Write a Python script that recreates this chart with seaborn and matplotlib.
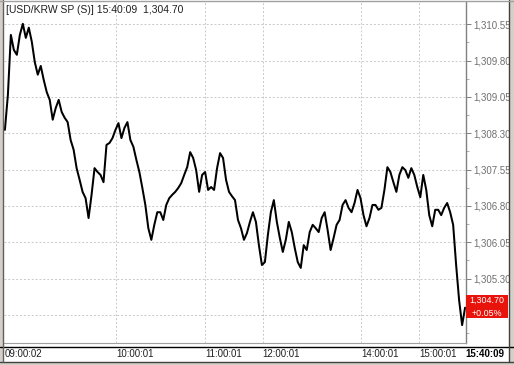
import matplotlib
matplotlib.use("Agg")
import matplotlib.pyplot as plt
import seaborn as sns
import numpy as np
import pandas as pd
from matplotlib.patches import Rectangle
from matplotlib.lines import Line2D
from matplotlib.ticker import FixedLocator

# ---- data ----
title = "[USD/KRW SP (S)] 15:40:09  1,304.70"
last_price_label = "1,304.70"
change_label = "+0.05%"

prices = [
    1308.37, 1309.09, 1310.33, 1310.02, 1309.92, 1310.33, 1310.56, 1310.27, 1310.48, 1310.19,
    1309.77, 1309.51, 1309.69, 1309.40, 1309.15, 1308.99, 1308.58, 1308.82, 1308.99, 1308.74,
    1308.62, 1308.53, 1308.16, 1307.96, 1307.58, 1307.34, 1307.09, 1306.96, 1306.55, 1307.03,
    1307.58, 1307.50, 1307.44, 1307.29, 1308.06, 1308.10, 1308.20, 1308.37, 1308.51, 1308.20,
    1308.41, 1308.53, 1308.16, 1308.02, 1307.75, 1307.50, 1307.17, 1306.82, 1306.34, 1306.10,
    1306.41, 1306.67, 1306.67, 1306.51, 1306.82, 1306.96, 1307.03, 1307.09, 1307.17, 1307.27,
    1307.44, 1307.60, 1307.91, 1307.79, 1307.54, 1307.09, 1307.44, 1307.50, 1307.13, 1307.19,
    1307.13, 1307.58, 1307.89, 1307.79, 1307.34, 1307.09, 1307.00, 1306.92, 1306.51, 1306.34,
    1306.10, 1306.24, 1306.47, 1306.67, 1306.47, 1305.99, 1305.58, 1305.64, 1306.20, 1306.67,
    1306.92, 1306.47, 1306.14, 1305.85, 1306.10, 1306.47, 1306.26, 1305.93, 1305.64, 1305.52,
    1305.99, 1305.89, 1306.26, 1306.41, 1306.34, 1306.26, 1306.55, 1306.67, 1306.30, 1305.89,
    1306.14, 1306.41, 1306.51, 1306.82, 1306.92, 1306.76, 1306.67, 1306.86, 1307.13, 1306.96,
    1306.61, 1306.38, 1306.55, 1306.82, 1306.82, 1306.72, 1306.76, 1307.13, 1307.60, 1307.50,
    1307.29, 1307.09, 1307.44, 1307.60, 1307.54, 1307.38, 1307.58, 1307.44, 1307.19, 1306.98,
    1307.44, 1307.13, 1306.61, 1306.38, 1306.72, 1306.72, 1306.61, 1306.76, 1306.86, 1306.67,
    1306.41, 1305.58, 1304.85, 1304.34, 1304.70,
]
time_labels = ["09:00:02", "10:00:01", "11:00:01", "12:00:01", "14:00:01", "15:00:01", "15:40:09"]
time_label_index = [0, 37.3, 67, 86.3, 119.3, 138.7, 154]
y_ticks = [1304.55, 1305.30, 1306.05, 1306.80, 1307.55, 1308.30, 1309.05, 1309.80, 1310.55]
y_labeled = [1305.30, 1306.05, 1306.80, 1307.55, 1308.30, 1309.05, 1309.80, 1310.55]

df = pd.DataFrame({"i": np.arange(len(prices)), "price": prices})

W, H = 514, 365
def fx(px): return px / W
def fy(py): return 1 - py / H

sns.set_style("white")
plt.rcParams['font.family'] = ['Liberation Sans', 'DejaVu Sans']

fig = plt.figure(figsize=(W / 100, H / 100), dpi=100)
fig.patch.set_facecolor("white")

L, R, T, B = 4, 466, 2, 343
ax = fig.add_axes([fx(L), fy(B), fx(R) - fx(L), fy(T) - fy(B)])
ax.set_facecolor("white")

sns.lineplot(data=df, x="i", y="price", color="black", lw=1.45, ax=ax, legend=False)

ax.set_xlim(-0.3, 154.3)
ax.set_ylim(1303.97, 1311.01)
ax.set_xlabel("")
ax.set_ylabel("")

# grid
grid_kw = dict(color="#c8c8c8", lw=0.7, ls=(0, (2, 2)), zorder=0)
for v in time_label_index[1:-1]:
    ax.axvline(v, **grid_kw)
for v in y_ticks:
    ax.axhline(v, **grid_kw)

# y axis on right
ax.yaxis.tick_right()
ax.set_yticks(y_ticks)
ax.set_yticklabels([f"{v:,.2f}" if v in y_labeled else "" for v in y_ticks])
minor = [v + 0.375 for v in y_ticks[:-1]] + [y_ticks[0] - 0.375]
ax.yaxis.set_minor_locator(FixedLocator(minor))
ax.tick_params(axis="y", which="major", right=True, length=3.5, width=0.7, color="#808080",
               labelsize=7, labelcolor="#707070", pad=1.5)
ax.tick_params(axis="y", which="minor", right=True, length=2, width=0.6, color="#a0a0a0")
ax.tick_params(axis="y", left=False)

# x tick labels
ax.set_xticks(time_label_index)
ax.set_xticklabels(time_labels)
ax.tick_params(axis="x", length=0, labelsize=7, labelcolor="#202020", pad=4.5)
for lab in ax.get_xticklabels():
    lab.set_horizontalalignment("left")
ax.get_xticklabels()[-1].set_fontweight("bold")
ax.get_xticklabels()[-1].set_color("black")

for s in ["top", "left"]:
    ax.spines[s].set_visible(False)
ax.spines["right"].set_color("#808080")
ax.spines["right"].set_linewidth(1.0)
ax.spines["bottom"].set_color("#a0a0a0")
ax.spines["bottom"].set_linewidth(0.8)

# title
fig.text(fx(6), fy(10), title, fontsize=7.5, color="#202020", va="center", ha="left")

# red last-price box
fig.patches.append(Rectangle((fx(466), fy(318)), fx(508) - fx(466), fy(295) - fy(318),
                             transform=fig.transFigure, facecolor="#e8140c", edgecolor="none",
                             zorder=5))
fig.text(fx(487), fy(300.5), last_price_label, fontsize=6.4, color="white", ha="center", va="center", zorder=6)
fig.text(fx(487), fy(313), change_label, fontsize=6.4, color="white", ha="center", va="center", zorder=6)

# frame lines
lines = [
    ((0, 514), (347, 347), "black", 1.0),
    ((0, 514), (361.5, 361.5), "#404040", 1.0),
    ((508.5, 508.5), (0, 362), "#404040", 1.0),
    ((3, 3), (0, 362), "#606060", 1.0),
    ((0, 514), (0.5, 0.5), "#a0a0a0", 1.0),
]
for xs, ys, c, w in lines:
    fig.add_artist(Line2D([fx(xs[0]), fx(xs[1])], [fy(ys[0]), fy(ys[1])],
                          transform=fig.transFigure, color=c, lw=w, zorder=8))
# gray borders
fig.patches.append(Rectangle((fx(509), 0), fx(514) - fx(509), 1, transform=fig.transFigure,
                             facecolor="#d4d0c8", edgecolor="none", zorder=7))
fig.patches.append(Rectangle((0, 0), fx(2.5), 1, transform=fig.transFigure,
                             facecolor="#d4d0c8", edgecolor="none", zorder=7))
fig.patches.append(Rectangle((0, 0), 1, fy(362), transform=fig.transFigure,
                             facecolor="#d4d0c8", edgecolor="none", zorder=7))

fig.savefig("out.png", dpi=100)
